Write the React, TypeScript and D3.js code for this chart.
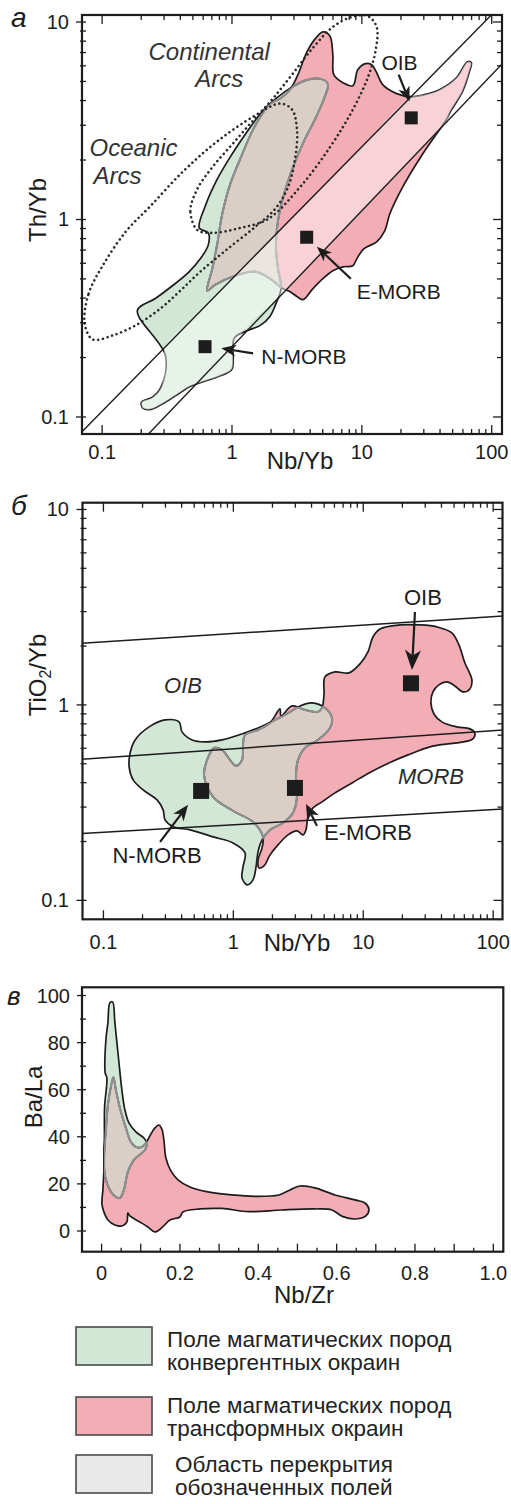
import React from "react";
import * as d3 from "d3";

type P = [number, number];

const FONT = "'Liberation Sans', Arial, Helvetica, sans-serif";
const GREEN = "#d3e7d7";
const PINK = "#f3adb4";
const BEIGE = "#dacfc6";
const GREYBOX = "#e8e9e8";
const INK = "#1c1c1c";
const INNER = "#8f8f8f";

// ---------- tick labels ----------
const logXTicks = [0.1, 1, 10, 100];
const logXLabels = ["0.1", "1", "10", "100"];
const logYTicks = [0.1, 1, 10];
const logYLabels = ["0.1", "1", "10"];
const linXTicks = [0, 0.2, 0.4, 0.6, 0.8, 1.0];
const linXLabels = ["0", "0.2", "0.4", "0.6", "0.8", "1.0"];
const linYTicks = [0, 20, 40, 60, 80, 100];
const linYLabels = ["0", "20", "40", "60", "80", "100"];

// ---------- Panel а : Th/Yb vs Nb/Yb ----------
const convergentA: P[] = [
  [0.187, 0.346], [0.257, 0.398], [0.348, 0.462], [0.461, 0.538], [0.57, 0.632], [0.657, 0.744],
  [0.657, 0.855], [0.56, 0.906], [0.623, 1.17], [0.77, 1.6], [1.0, 2.14], [1.31, 2.79], [1.59, 3.32],
  [1.9, 3.78], [2.56, 4.44], [3.65, 5.05], [4.75, 5.16], [5.47, 4.87], [5.19, 4.19], [4.43, 3.29],
  [3.58, 2.49], [2.95, 1.84], [2.52, 1.35], [2.26, 0.983], [2.18, 0.727], [2.26, 0.563], [2.39, 0.447],
  [2.18, 0.375], [1.96, 0.323], [1.65, 0.291], [1.26, 0.271], [1.04, 0.25], [1.0, 0.175], [0.841, 0.163],
  [0.623, 0.152], [0.478, 0.143], [0.367, 0.128], [0.281, 0.115], [0.232, 0.109], [0.205, 0.111],
  [0.201, 0.119], [0.244, 0.126], [0.286, 0.143], [0.307, 0.205],
];
const transformA: P[] = [
  [0.645, 0.436], [0.705, 0.563], [0.77, 0.753], [0.841, 1.066], [0.969, 1.51], [1.198, 2.14],
  [1.455, 2.857], [1.735, 3.48], [1.964, 3.864], [2.344, 4.093], [2.797, 4.544], [3.22, 5.41],
  [3.777, 7.06], [4.43, 8.31], [5.01, 8.91], [5.67, 8.5], [5.98, 6.82], [6.085, 5.41], [7.135, 4.93],
  [8.52, 4.76], [9.3, 5.73], [10.53, 6.14], [11.91, 6.07], [13.01, 5.535], [14.47, 4.815], [18.53, 4.34],
  [23.73, 4.19], [30.4, 4.29], [39.6, 4.544], [53.5, 5.22], [65.0, 6.29], [69.7, 6.22], [67.3, 5.6],
  [59.5, 4.44], [48.1, 3.52], [44.8, 3.21], [29.3, 2.14], [20.6, 1.458], [16.4, 1.066], [15.0, 0.875],
  [13.0, 0.77], [10.34, 0.71], [9.14, 0.632], [8.52, 0.583], [7.135, 0.576], [5.98, 0.55], [5.01, 0.5015],
  [4.2, 0.4466], [3.52, 0.393], [3.166, 0.407], [2.8, 0.431], [2.47, 0.4466], [1.964, 0.5015],
  [1.507, 0.544], [1.058, 0.519], [0.743, 0.4677],
];
const morbOibBandA: P[] = [
  [23.73, 4.155], [10, 2.331], [3, 1.042], [1, 0.4995], [0.5, 0.314], [0.307, 0.2266],
  [0.286, 0.143], [0.244, 0.126], [0.201, 0.119], [0.205, 0.111], [0.232, 0.109], [0.281, 0.115],
  [0.367, 0.128], [0.478, 0.143], [0.623, 0.152], [0.841, 0.163], [1.0, 0.175], [1.058, 0.236],
  [3, 0.484], [10, 1.108], [30, 2.359], [44.6, 3.1], [48.1, 3.52], [59.5, 4.44], [67.3, 5.6],
  [69.7, 6.22], [65.0, 6.29], [53.5, 5.22], [39.6, 4.544], [30.4, 4.29],
];
const oceanicArcs: P[] = [
  [0.0734, 0.2976], [0.0788, 0.4212], [0.1009, 0.583], [0.1515, 0.865], [0.2356, 1.17], [0.422, 1.755],
  [0.77, 2.486], [1.507, 3.36], [2.344, 3.864], [2.897, 3.604], [3.166, 2.857], [3.055, 2.018],
  [2.7, 1.458], [2.146, 1.13], [1.507, 0.917], [0.887, 0.694], [0.57, 0.544], [0.4003, 0.436],
  [0.2812, 0.354], [0.1808, 0.2907], [0.1204, 0.2588], [0.0846, 0.247],
];
const continentalArcs: P[] = [
  [0.5406, 0.885], [0.4778, 1.104], [0.5406, 1.425], [0.705, 1.839], [1.003, 2.401], [1.429, 3.134],
  [2.035, 4.046], [2.897, 5.41], [4.2, 7.4], [5.98, 9.44], [8.365, 10.6], [11.1, 10.72], [13.0, 9.44],
  [12.79, 7.23], [11.1, 5.22], [8.365, 3.52], [5.67, 2.319], [3.338, 1.458], [1.896, 1.006],
  [1.156, 0.906], [0.705, 0.855],
];
const arrayLinesA: [P, P][] = [
  [[0.1, 0.107], [100, 10.9]],
  [[0.1, 0.0466], [100, 5.4]],
];
const refNamesA = ["OIB", "E-MORB", "N-MORB"];
const refXA = [24, 3.76, 0.62];
const refYA = [3.27, 0.813, 0.227];
// arrows: [tail, tip]
const arrowsA: [P, P][] = [
  [[19.2, 5.41], [23.3, 3.954]],
  [[8.22, 0.5015], [4.51, 0.727]],
  [[1.455, 0.21], [0.826, 0.2227]],
];
const labelPosA: P[] = [[19.5, 5.73], [19.2, 0.3977], [3.58, 0.185]];

// ---------- Panel б : TiO2/Yb vs Nb/Yb ----------
const convergentB: P[] = [
  [1.495, 0.1483], [1.549, 0.177], [1.663, 0.204], [1.916, 0.2294], [2.412, 0.249], [2.879, 0.2803],
  [3.09, 0.3384], [3.036, 0.4384], [3.147, 0.5233], [3.56, 0.6026], [4.482, 0.662], [5.544, 0.7627],
  [5.745, 0.858], [5.075, 0.965], [4.03, 1.024], [3.26, 0.988], [2.731, 0.921], [2.094, 0.838],
  [1.549, 0.7627], [1.23, 0.719], [0.8186, 0.662], [0.606, 0.6467], [0.4813, 0.662], [0.403, 0.7277],
  [0.3823, 0.8187], [0.2983, 0.838], [0.2247, 0.772], [0.1753, 0.662], [0.1605, 0.568], [0.1577, 0.4818],
  [0.1693, 0.4133], [0.202, 0.3674], [0.2588, 0.3266], [0.288, 0.2904], [0.2983, 0.258], [0.3437, 0.2377],
  [0.4645, 0.2294], [0.698, 0.2113], [0.995, 0.1968], [1.23, 0.175], [1.187, 0.1483], [1.166, 0.1303],
  [1.275, 0.12], [1.417, 0.1273],
];
const transformB: P[] = [
  [1.23, 0.702], [1.549, 0.745], [1.916, 0.809], [2.287, 0.954], [2.328, 0.878], [2.828, 0.988],
  [3.56, 0.943], [4.482, 0.921], [4.812, 0.965], [4.985, 1.125], [5.075, 1.391], [6.058, 1.475],
  [7.762, 1.458], [9.43, 1.621], [10.87, 1.866], [11.87, 2.227], [13.45, 2.447], [19.16, 2.566],
  [27.3, 2.566], [36.9, 2.506], [48.1, 2.335], [54.5, 2.027], [60.6, 1.64], [68.6, 1.342], [66.2, 1.207],
  [58.5, 1.166], [50.75, 1.251], [44.0, 1.311], [38.2, 1.266], [34.4, 1.166], [33.2, 1.024], [35.0, 0.899],
  [40.3, 0.819], [52.6, 0.772], [66.2, 0.754], [72.3, 0.719], [69.8, 0.67], [59.5, 0.647], [44.8, 0.632],
  [32.6, 0.61], [22.1, 0.555], [15.76, 0.505], [11.06, 0.449], [8.19, 0.399], [6.058, 0.3548],
  [4.812, 0.319], [4.104, 0.2972], [3.755, 0.2674], [3.624, 0.2294], [3.437, 0.2163], [3.09, 0.2267],
  [2.635, 0.2163], [2.207, 0.1922], [1.916, 0.1709], [1.722, 0.1501], [1.576, 0.1466], [1.549, 0.1611],
  [1.663, 0.1856], [1.692, 0.2113], [1.417, 0.252], [0.995, 0.287], [0.698, 0.3384], [0.595, 0.4384],
  [0.628, 0.5233], [0.7104, 0.6026], [0.8186, 0.5886], [0.943, 0.5233], [1.049, 0.4875], [1.166, 0.5233],
  [1.187, 0.6242],
];
const boundaryLinesB: [P, P][] = [
  [[0.1, 2.1], [100, 2.83]],
  [[0.1, 0.536], [100, 0.739]],
  [[0.1, 0.223], [100, 0.291]],
];
const refNamesB = ["OIB", "E-MORB", "N-MORB"];
const refXB = [23.3, 2.98, 0.565];
const refYB = [1.29, 0.376, 0.363];
const arrowsB: [P, P][] = [
  [[25.0, 2.99], [23.7, 1.51]],
  [[4.404, 0.2405], [3.624, 0.3115]],
  [[0.273, 0.199], [0.448, 0.308]],
];
const labelPosB: P[] = [[28.8, 3.247], [10.87, 0.204], [0.2588, 0.1555]];
const fieldNamesB = ["OIB", "MORB"];
const fieldPosB: P[] = [[0.41, 1.152], [33.2, 0.3945]];

// ---------- Panel в : Ba/La vs Nb/Zr ----------
const convergentC: P[] = [
  [0.0281, 97.3], [0.034, 88.4], [0.0429, 73.9], [0.0518, 59.9], [0.0595, 51.4], [0.0698, 45.9],
  [0.0876, 42.1], [0.108, 39.5], [0.1156, 37.4], [0.1105, 34.4], [0.0825, 30.2], [0.0671, 25.1],
  [0.0569, 17.4], [0.0467, 14.0], [0.0365, 14.4], [0.0212, 17.4], [0.0084, 23.8], [0.0059, 34.4],
  [0.0071, 38.7], [0.0077, 52.7], [0.0135, 65.0], [0.0092, 67.1], [0.011, 81.2], [0.0161, 88.4],
  [0.0212, 96.9],
];
const transformC: P[] = [
  [0.0301, 65.4], [0.0365, 59.9], [0.0467, 52.3], [0.062, 43.8], [0.0748, 37.8], [0.0876, 35.7],
  [0.1029, 35.7], [0.1131, 37.4], [0.1233, 40.4], [0.1361, 43.8], [0.1463, 45.0], [0.1539, 43.3],
  [0.159, 38.7], [0.1642, 31.0], [0.1769, 25.5], [0.1948, 21.7], [0.2254, 18.7], [0.2714, 16.6],
  [0.3327, 15.3], [0.3914, 14.7], [0.4527, 15.3], [0.4808, 17.4], [0.5063, 19.1], [0.5446, 18.3],
  [0.5956, 15.3], [0.6467, 13.2], [0.6722, 11.9], [0.6824, 9.35], [0.6747, 6.37], [0.6492, 5.1],
  [0.616, 6.08], [0.5879, 8.92], [0.5446, 9.35], [0.4603, 8.92], [0.376, 8.2], [0.3071, 9.56],
  [0.251, 9.35], [0.2076, 8.07], [0.1999, 5.95], [0.1744, 4.67], [0.1565, 1.83], [0.1361, -0.42],
  [0.1182, 1.7], [0.0978, 3.82], [0.0722, 6.37], [0.0671, 7.65], [0.0646, 3.82], [0.0518, 2.12],
  [0.034, 2.55], [0.0161, 4.67], [0.0059, 8.07], [0.0008, 11.5], [0.0033, 17.4], [0.0059, 25.9],
  [0.0071, 34.4], [0.011, 42.9], [0.0161, 53.5], [0.0237, 61.2],
];

// ---------- legend ----------
const legendFills = [GREEN, PINK, GREYBOX];
const legendTexts = [
  ["Поле магматических пород", "конвергентных окраин"],
  ["Поле магматических пород", "трансформных окраин"],
  ["Область перекрытия", "обозначенных полей"],
];

type Sc = (v: number) => number;

function smoothPath(sx: Sc, sy: Sc, pts: P[]) {
  return d3
    .line<P>()
    .x((d) => sx(d[0]))
    .y((d) => sy(d[1]))
    .curve(d3.curveCatmullRomClosed.alpha(0.5))(pts) as string;
}

function Fields({ id, sx, sy, green, pink }: { id: string; sx: Sc; sy: Sc; green: P[]; pink: P[] }) {
  const g = smoothPath(sx, sy, green);
  const p = smoothPath(sx, sy, pink);
  return (
    <g>
      <defs>
        <clipPath id={`${id}-pk`}>
          <path d={p} />
        </clipPath>
        <clipPath id={`${id}-gr`}>
          <path d={g} />
        </clipPath>
      </defs>
      <path d={g} fill={GREEN} />
      <path d={p} fill={PINK} />
      <path d={g} fill={BEIGE} clipPath={`url(#${id}-pk)`} />
      <path d={g} fill="none" stroke={INK} strokeWidth={1.7} />
      <path d={p} fill="none" stroke={INK} strokeWidth={1.7} />
      <path d={g} fill="none" stroke={INNER} strokeWidth={2.2} clipPath={`url(#${id}-pk)`} />
      <path d={p} fill="none" stroke={INNER} strokeWidth={2.2} clipPath={`url(#${id}-gr)`} />
    </g>
  );
}

function ExtLine({ sx, sy, seg, x0, x1, w = 1.3 }: { sx: Sc; sy: Sc; seg: [P, P]; x0: number; x1: number; w?: number }) {
  const ax = sx(seg[0][0]), ay = sy(seg[0][1]), bx = sx(seg[1][0]), by = sy(seg[1][1]);
  const k = (by - ay) / (bx - ax);
  const X0 = x0 - 5, X1 = x1 + 5;
  return <path d={`M${X0},${ay + k * (X0 - ax)}L${X1},${ay + k * (X1 - ax)}`} stroke={INK} strokeWidth={w} fill="none" />;
}

function Arrow({ x1, y1, x2, y2, len = 15, w = 6 }: { x1: number; y1: number; x2: number; y2: number; len?: number; w?: number }) {
  const dx = x2 - x1, dy = y2 - y1;
  const L = Math.hypot(dx, dy);
  const ux = dx / L, uy = dy / L;
  const bx = x2 - ux * len, by = y2 - uy * len;
  const nx = x2 - ux * len * 0.72, ny = y2 - uy * len * 0.72;
  const px = -uy, py = ux;
  return (
    <g>
      <line x1={x1} y1={y1} x2={nx} y2={ny} stroke={INK} strokeWidth={2.2} />
      <polygon
        points={`${x2},${y2} ${bx + px * w},${by + py * w} ${nx},${ny} ${bx - px * w},${by - py * w}`}
        fill={INK}
      />
    </g>
  );
}

function isDecade(v: number) {
  const l = Math.log10(v);
  return Math.abs(l - Math.round(l)) < 1e-6;
}

function LogFrame({ sx, sy, x0, x1, y0, y1 }: { sx: any; sy: any; x0: number; x1: number; y0: number; y1: number }) {
  const xt: number[] = sx.ticks().filter((v: number) => v >= 0.0999 && v <= 100.01);
  const yt: number[] = sy.ticks().filter((v: number) => v >= 0.0999 && v <= 10.01);
  const els: JSX.Element[] = [];
  xt.forEach((v, i) => {
    const L = isDecade(v) ? 9 : 5;
    const X = sx(v);
    els.push(<line key={`xb${i}`} x1={X} x2={X} y1={y1} y2={y1 - L} stroke={INK} strokeWidth={1.3} />);
    els.push(<line key={`xt${i}`} x1={X} x2={X} y1={y0} y2={y0 + L} stroke={INK} strokeWidth={1.3} />);
  });
  yt.forEach((v, i) => {
    const L = isDecade(v) ? 9 : 5;
    const Y = sy(v);
    els.push(<line key={`yl${i}`} x1={x0 - L + 3} x2={x0 + 4} y1={Y} y2={Y} stroke={INK} strokeWidth={1.3} />);
    els.push(<line key={`yr${i}`} x1={x1} x2={x1 - L} y1={Y} y2={Y} stroke={INK} strokeWidth={1.3} />);
  });
  return (
    <g>
      {els}
      <rect x={x0} y={y0} width={x1 - x0} height={y1 - y0} fill="none" stroke={INK} strokeWidth={2.2} />
    </g>
  );
}

export default function App() {
  // panel а
  const xA = d3.scaleLog().domain([0.07, 120]).range([82, 502]);
  const yA = d3.scaleLog().domain([0.082, 10.85]).range([434, 15]);
  // panel б
  const xB = d3.scaleLog().domain([0.069, 118]).range([82.5, 502.5]);
  const yB = d3.scaleLog().domain([0.08, 10.83]).range([919.3, 502.7]);
  // panel в
  const xC = d3.scaleLinear().domain([-0.05, 1.0255]).range([82, 503.3]);
  const yC = d3.scaleLinear().domain([-8.8, 103.5]).range([1251.7, 987.3]);

  const tickFont = 20;
  const titleFont = 24;

  const cTicksX = d3.range(0, 1.0001, 0.05);
  const cTicksY = d3.range(0, 100.001, 10);

  return (
    <svg
      width={511}
      height={1504}
      viewBox="0 0 511 1504"
      style={{ position: "absolute", left: 0, top: 0, background: "#fff" }}
      fontFamily={FONT}
    >
      <rect x={0} y={0} width={511} height={1504} fill="#fff" />
      <defs>
        <clipPath id="frameA">
          <rect x={82} y={15} width={420} height={419} />
        </clipPath>
        <clipPath id="frameB">
          <rect x={82.5} y={502.7} width={420} height={416.6} />
        </clipPath>
        <clipPath id="frameC">
          <rect x={82} y={987.3} width={421.3} height={264.4} />
        </clipPath>
      </defs>

      {/* ================= Panel а ================= */}
      <g clipPath="url(#frameA)">
        <Fields id="fa" sx={xA} sy={yA} green={convergentA} pink={transformA} />
        <path d={smoothPath(xA, yA, morbOibBandA)} fill="#fff" fillOpacity={0.45} stroke="none" />
        {arrayLinesA.map((s, i) => (
          <ExtLine key={i} sx={xA} sy={yA} seg={s} x0={82} x1={502} w={1.4} />
        ))}
        {[oceanicArcs, continentalArcs].map((pts, i) => (
          <path
            key={i}
            d={smoothPath(xA, yA, pts)}
            fill="none"
            stroke="#2a2a2a"
            strokeWidth={2.6}
            strokeDasharray="0.01 4.8"
            strokeLinecap="round"
          />
        ))}
        {refXA.map((v, i) => (
          <rect key={i} x={xA(v) - 6.5} y={yA(refYA[i]) - 6.5} width={13} height={13} fill={INK} />
        ))}
        {arrowsA.map((a, i) => (
          <Arrow key={i} x1={xA(a[0][0])} y1={yA(a[0][1])} x2={xA(a[1][0])} y2={yA(a[1][1])} len={15} w={6} />
        ))}
      </g>
      <text x={xA(0.668)} y={yA(6.44)} fontSize={24} fontStyle="italic" fill="#333" textAnchor="middle">Continental</text>
      <text x={xA(0.798)} y={yA(4.705)} fontSize={24} fontStyle="italic" fill="#333" textAnchor="middle">Arcs</text>
      <text x={xA(0.1745)} y={yA(2.089)} fontSize={24} fontStyle="italic" fill="#333" textAnchor="middle">Oceanic</text>
      <text x={xA(0.1315)} y={yA(1.51)} fontSize={24} fontStyle="italic" fill="#333" textAnchor="middle">Arcs</text>
      {refNamesA.map((n, i) => (
        <text key={n} x={xA(labelPosA[i][0])} y={yA(labelPosA[i][1])} fontSize={21} fill={INK} textAnchor="middle">
          {n}
        </text>
      ))}
      <LogFrame sx={xA} sy={yA} x0={82} x1={502} y0={15} y1={434} />
      {logXTicks.map((v, i) => (
        <text key={i} x={xA(v)} y={459} fontSize={tickFont} textAnchor="middle" fill={INK}>{logXLabels[i]}</text>
      ))}
      {logYTicks.map((v, i) => (
        <text key={i} x={69} y={yA(v) + 7} fontSize={tickFont} textAnchor="end" fill={INK}>{logYLabels[i]}</text>
      ))}
      <text x={300} y={469} fontSize={titleFont} textAnchor="middle" fill={INK}>Nb/Yb</text>
      <text transform="translate(46,210) rotate(-90)" fontSize={titleFont} textAnchor="middle" fill={INK}>Th/Yb</text>
      <text x={11} y={27} fontSize={28} fontStyle="italic" fill={INK}>а</text>

      {/* ================= Panel б ================= */}
      <g clipPath="url(#frameB)">
        <Fields id="fb" sx={xB} sy={yB} green={convergentB} pink={transformB} />
        {boundaryLinesB.map((s, i) => (
          <ExtLine key={i} sx={xB} sy={yB} seg={s} x0={82.5} x1={502.5} w={1.5} />
        ))}
        {refXB.map((v, i) => (
          <rect key={i} x={xB(v) - 8} y={yB(refYB[i]) - 8} width={16} height={16} fill={INK} />
        ))}
        {arrowsB.map((a, i) => (
          <Arrow key={i} x1={xB(a[0][0])} y1={yB(a[0][1])} x2={xB(a[1][0])} y2={yB(a[1][1])} len={i === 0 ? 20 : 16} w={i === 0 ? 8 : 6.5} />
        ))}
      </g>
      {refNamesB.map((n, i) => (
        <text key={n} x={xB(labelPosB[i][0])} y={yB(labelPosB[i][1])} fontSize={22} fill={INK} textAnchor="middle">
          {n}
        </text>
      ))}
      {fieldNamesB.map((n, i) => (
        <text key={n} x={xB(fieldPosB[i][0])} y={yB(fieldPosB[i][1])} fontSize={22} fontStyle="italic" fill="#2a2a2a" textAnchor="middle">
          {n}
        </text>
      ))}
      <LogFrame sx={xB} sy={yB} x0={82.5} x1={502.5} y0={502.7} y1={919.3} />
      {logXTicks.map((v, i) => (
        <text key={i} x={xB(v)} y={949} fontSize={tickFont} textAnchor="middle" fill={INK}>{logXLabels[i]}</text>
      ))}
      {logYTicks.map((v, i) => (
        <text key={i} x={69} y={yB(v) + 7} fontSize={tickFont} textAnchor="end" fill={INK}>{logYLabels[i]}</text>
      ))}
      <text x={297} y={951} fontSize={titleFont} textAnchor="middle" fill={INK}>Nb/Yb</text>
      <text transform="translate(46,675) rotate(-90)" fontSize={titleFont} textAnchor="middle" fill={INK}>
        <tspan>TiO</tspan>
        <tspan fontSize={16} dy={5}>2</tspan>
        <tspan dy={-5}>/Yb</tspan>
      </text>
      <text x={11} y={515} fontSize={28} fontStyle="italic" fill={INK}>б</text>

      {/* ================= Panel в ================= */}
      <g clipPath="url(#frameC)">
        <Fields id="fc" sx={xC} sy={yC} green={convergentC} pink={transformC} />
      </g>
      {cTicksX.map((v, i) => {
        const L = i % 2 === 0 ? 8 : 4;
        return <line key={i} x1={xC(v)} x2={xC(v)} y1={1251.7} y2={1251.7 - L} stroke={INK} strokeWidth={1.3} />;
      })}
      {cTicksY.map((v, i) => {
        const L = i % 2 === 0 ? 8 : 5;
        return <line key={i} x1={82 - L + 3} x2={82 + 4} y1={yC(v)} y2={yC(v)} stroke={INK} strokeWidth={1.3} />;
      })}
      <rect x={82} y={987.3} width={421.3} height={264.4} fill="none" stroke={INK} strokeWidth={2.2} />
      {linXTicks.map((v, i) => (
        <text key={i} x={xC(v)} y={1280} fontSize={tickFont} textAnchor="middle" fill={INK}>{linXLabels[i]}</text>
      ))}
      {linYTicks.map((v, i) => (
        <text key={i} x={70} y={yC(v) + 7} fontSize={tickFont} textAnchor="end" fill={INK}>{linYLabels[i]}</text>
      ))}
      <text x={304} y={1303} fontSize={titleFont} textAnchor="middle" fill={INK}>Nb/Zr</text>
      <text transform="translate(42,1097) rotate(-90)" fontSize={titleFont} textAnchor="middle" fill={INK}>Ba/La</text>
      <text x={7} y={1005} fontSize={26} fontStyle="italic" fill={INK}>в</text>

      {/* ================= Legend ================= */}
      {legendFills.map((f, i) => {
        const boxY = [1327, 1397, 1455][i];
        const tx = i === 2 ? 175 : 167;
        const b1 = [1347, 1413, 1471.5][i];
        const gap = [23, 23, 23.5][i];
        return (
          <g key={i}>
            <rect x={76} y={boxY} width={76} height={38} fill={f} stroke="#4a4a4a" strokeWidth={1.6} />
            <text x={tx} y={b1} fontSize={22.5} fill="#222">
              <tspan x={tx}>{legendTexts[i][0]}</tspan>
              <tspan x={tx} dy={gap}>{legendTexts[i][1]}</tspan>
            </text>
          </g>
        );
      })}
    </svg>
  );
}
